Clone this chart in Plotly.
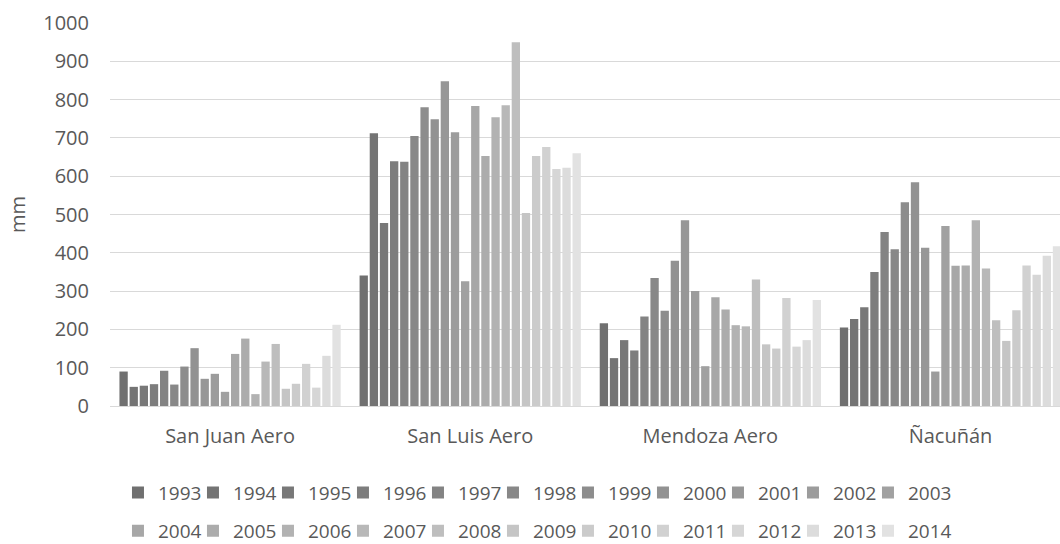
import plotly.graph_objects as go

categories = ["San Juan Aero", "San Luis Aero", "Mendoza Aero", "Ñacuñán"]
years = [str(y) for y in range(1993, 2015)]

san_juan = [90, 50, 53, 57, 92, 56, 103, 151, 71, 84, 37, 136, 176, 31, 116, 162, 45, 58, 110, 48, 131, 212]
san_luis = [341, 712, 478, 639, 638, 705, 780, 749, 848, 715, 326, 783, 653, 754, 785, 950, 504, 653, 676, 619, 622, 660]
mendoza = [216, 125, 172, 145, 234, 334, 249, 379, 485, 300, 104, 284, 252, 211, 208, 330, 161, 150, 282, 155, 172, 277]
nacunan = [205, 227, 258, 350, 454, 409, 532, 584, 413, 90, 470, 366, 367, 485, 359, 224, 170, 250, 367, 343, 392, 417]

colors = ["#707070", "#747474", "#787878", "#7d7d7d", "#838383", "#888888", "#8d8d8d",
          "#929292", "#979797", "#9c9c9c", "#a1a1a1", "#a7a7a7", "#acacac", "#b2b2b2",
          "#b8b8b8", "#bebebe", "#c5c5c5", "#cbcbcb", "#d1d1d1", "#d6d6d6", "#dcdcdc", "#e2e2e2"]

FONT = "Open Sans"
fig = go.Figure()
for i, yr in enumerate(years):
    vals = [san_juan[i], san_luis[i], mendoza[i], nacunan[i]]
    fig.add_trace(go.Bar(
        x=[0, 1, 2, 3], y=vals, name=yr,
        marker=dict(color=colors[i], line=dict(width=0)),
        legend="legend" if i < 11 else "legend2",
    ))
    if i in (10, 21):
        # invisible spacer legend entry so the last label is not clipped
        fig.add_trace(go.Scatter(
            x=[None], y=[None], name=" ", mode="markers", hoverinfo="skip",
            marker=dict(color="rgba(0,0,0,0)", size=1),
            legend="legend" if i < 11 else "legend2",
        ))

legend_common = dict(
    orientation="h", xanchor="left", yanchor="middle",
    font=dict(family=FONT, size=19, color="#595959"),
    entrywidth=30, entrywidthmode="pixels",
    itemclick=False, itemdoubleclick=False,
    bgcolor="rgba(0,0,0,0)", borderwidth=0, traceorder="normal",
    tracegroupgap=0,
)

fig.update_layout(
    width=1060, height=544,
    margin=dict(l=110, r=0, t=23, b=138, autoexpand=False),
    paper_bgcolor="white", plot_bgcolor="white",
    barmode="group", bargap=0.071, bargroupgap=0.18,
    font=dict(family=FONT, size=20, color="#595959"),
    legend=dict(x=0.0084, y=-0.226, **legend_common),
    legend2=dict(x=0.0084, y=-0.326, **legend_common),
    showlegend=True,
)
fig.update_xaxes(
    tickmode="array", tickvals=[0, 1, 2, 3], ticktext=categories,
    range=[-0.5, 3.456], showgrid=False, zeroline=False,
    showline=False, ticks="", ticklabelstandoff=16,
    tickfont=dict(family=FONT, size=20, color="#595959"),
)
fig.update_yaxes(
    range=[0, 1000], dtick=100, tick0=0,
    showgrid=True, gridcolor="#d9d9d9", gridwidth=1.3,
    zeroline=True, zerolinecolor="#d9d9d9", zerolinewidth=1.3,
    showline=False, ticks="", ticklabelstandoff=20,
    tickfont=dict(family=FONT, size=20, color="#595959"),
    title=dict(text="mm", font=dict(family=FONT, size=20, color="#595959"), standoff=12),
)

fig.write_html("out.html")
